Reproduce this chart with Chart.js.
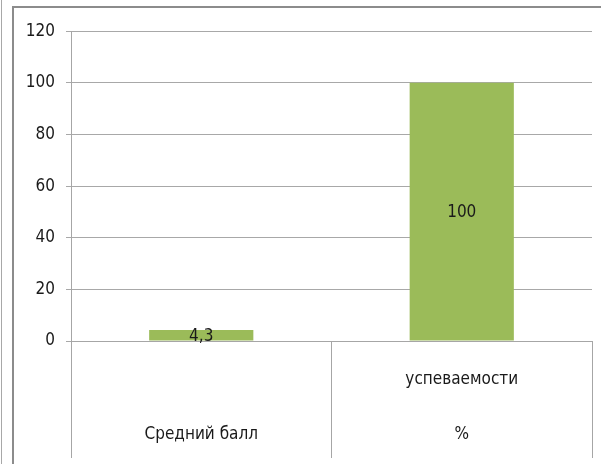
<!DOCTYPE html>
<html>
<head>
<meta charset="utf-8">
<script src="https://cdn.jsdelivr.net/npm/chart.js@4.4.1/dist/chart.umd.min.js"></script>
<style>
  html, body { margin: 0; padding: 0; background: #fff; }
  body { width: 601px; height: 464px; position: relative; overflow: hidden; }
  #edge { position: absolute; left: 1px; top: 0; width: 0; height: 464px; border-left: 1px solid #a8a8a8; }
  #frame {
    position: absolute; left: 12px; top: 6px; width: 589px; height: 458px;
    border-left: 2px solid #8c8c8c; border-top: 2px solid #8c8c8c; box-sizing: border-box;
  }
  #chartWrap { position: absolute; left: 2px; top: 2px; width: 587px; height: 456px; }
</style>
</head>
<body>
<div id="edge"></div>
<div id="frame">
  <div id="chartWrap"><canvas id="gradesChart" width="587" height="456"></canvas></div>
</div>
<script>
// chart data
const categories = ["Средний балл", ["успеваемости", "%"]];
const values = [4.3, 100];
const yTicks = [0, 20, 40, 60, 80, 100, 120];

const FONT = "'Liberation Sans Narrow', 'DejaVu Sans Condensed', 'Open Sans', sans-serif";

// draws the value inside the middle of each bar, like the excel data labels
const barValueLabels = {
  id: "barValueLabels",
  afterDatasetsDraw(chart) {
    const ctx = chart.ctx;
    const meta = chart.getDatasetMeta(0);
    ctx.save();
    ctx.font = "17px " + FONT;
    ctx.fillStyle = "#1a1a1a";
    ctx.textAlign = "center";
    ctx.textBaseline = "middle";
    meta.data.forEach((bar, i) => {
      const text = String(values[i]).replace(".", ",");
      ctx.fillText(text, bar.x, (bar.y + bar.base) / 2 + 1);
    });
    ctx.restore();
  }
};

function drawChart() {
  const canvas = document.getElementById("gradesChart");
  if (!canvas) return;

  new Chart(canvas.getContext("2d"), {
    type: "bar",
    data: {
      labels: categories,
      datasets: [
        {
          data: values,
          backgroundColor: "#9bbb59",
          borderWidth: 0,
          categoryPercentage: 1,
          barPercentage: 0.4
        }
      ]
    },
    options: {
      responsive: false,
      animation: false,
      layout: { padding: { top: 21, right: 11, left: 0, bottom: 0 } },
      plugins: {
        legend: { display: false },
        tooltip: { enabled: false }
      },
      scales: {
        x: {
          offset: true,
          afterFit: (scale) => { scale.height = 125; },
          grid: {
            offset: true,
            drawOnChartArea: false,
            drawTicks: true,
            tickLength: 117,
            color: "#a6a6a6",
            lineWidth: 1
          },
          border: { color: "#a6a6a6" },
          ticks: {
            color: "#1a1a1a",
            crossAlign: "far",
            padding: -78,
            maxRotation: 0,
            font: { family: FONT, size: 17, lineHeight: "55px" }
          }
        },
        y: {
          min: 0,
          max: 120,
          afterFit: (scale) => { scale.width = 55; },
          afterBuildTicks: (scale) => { scale.ticks = yTicks.map(v => ({ value: v })); },
          grid: {
            color: "#a8a8a8",
            tickLength: 5,
            lineWidth: 1
          },
          border: { color: "#a6a6a6" },
          ticks: {
            color: "#1a1a1a",
            padding: 11,
            font: { family: FONT, size: 17 }
          }
        }
      }
    },
    plugins: [barValueLabels]
  });
}

document.addEventListener("DOMContentLoaded", drawChart);
</script>
</body>
</html>
